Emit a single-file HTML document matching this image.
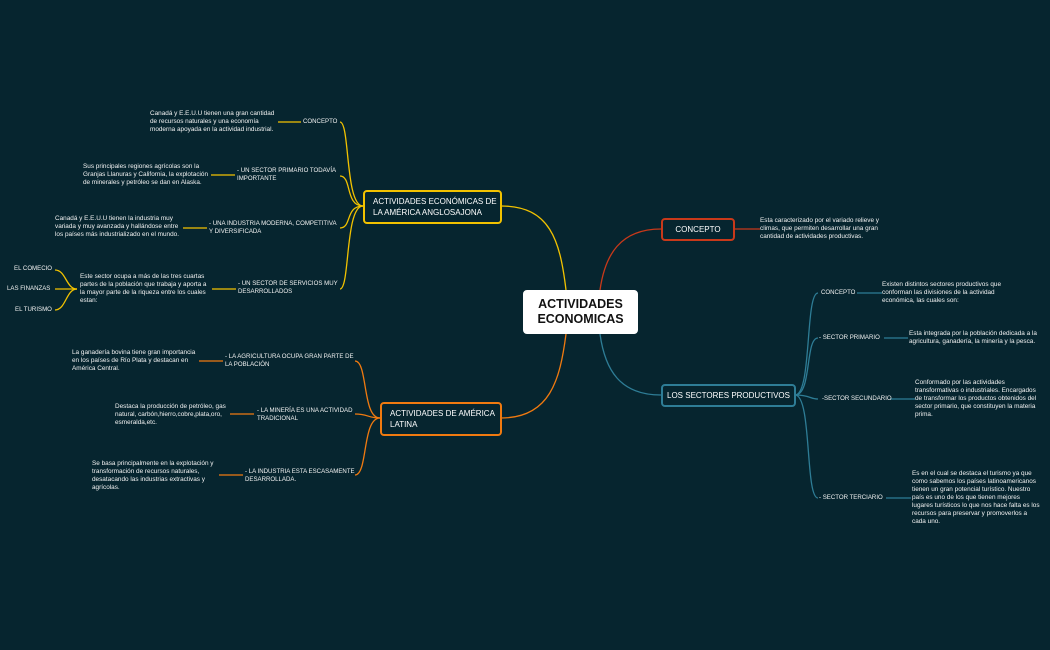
<!DOCTYPE html>
<html><head><meta charset="utf-8"><style>
html,body{margin:0;padding:0;}
body{width:1050px;height:650px;background:#06252f;position:relative;overflow:hidden;font-family:"Liberation Sans",sans-serif;color:#fff;}
.t{position:absolute;font-size:6.4px;line-height:8px;white-space:nowrap;color:#f2f2f2;}
.l{font-size:6.1px;}
.box{position:absolute;box-sizing:border-box;border-radius:4px;border:2.5px solid;background:#06252f;color:#fff;font-size:8px;font-weight:normal;line-height:11px;display:flex;align-items:center;white-space:nowrap;}
svg{position:absolute;left:0;top:0;}
</style></head><body>
<svg width="1050" height="650" fill="none" stroke-width="1.3">
<path d="M501,206 C550,206 560,240 566,290" stroke="#f2c200"/>
<path d="M501,418 C550,418 560,380 566,334" stroke="#f07a10"/>
<path d="M661,229 C620,229 605,255 600,290" stroke="#c8391a"/>
<path d="M661,395 C620,395 605,370 600,334" stroke="#2e7d96"/>
<g stroke="#f2c200">
<path d="M363,206 C345,206 350,122 340,122"/>
<path d="M363,206 C345,206 352,176 340,176"/>
<path d="M363,206 C345,206 352,228 340,228"/>
<path d="M363,206 C345,206 350,289 340,289"/>
<path d="M278,122 H301"/><path d="M211,175 H235"/><path d="M183,228 H207"/><path d="M212,289 H236"/>
<path d="M77,289 C66,289 66,270 55,270"/><path d="M77,289 H55"/><path d="M77,289 C66,289 66,310 55,310"/>
</g>
<g stroke="#f07a10">
<path d="M380,418 C362,418 368,361 355,361"/>
<path d="M380,418 C368,418 368,414 355,414"/>
<path d="M380,418 C362,418 368,475 355,475"/>
<path d="M199,361 H223"/><path d="M230,414 H254"/><path d="M219,475 H243"/>
</g>
<path d="M734,229 H760" stroke="#c8391a"/>
<g stroke="#2e7d96">
<path d="M795,395 C812,395 805,293 818,293"/>
<path d="M795,395 C812,395 805,338 818,338"/>
<path d="M795,395 C810,395 810,399 818,399"/>
<path d="M795,395 C812,395 805,498 818,498"/>
<path d="M857,293 H882"/><path d="M884,338 H908"/><path d="M890,399 H915"/><path d="M886,498 H911"/>
</g>
</svg>

<div class="box" style="left:523px;top:290px;width:115px;height:44px;background:#fff;border-color:#fff;color:#111;font-size:12.5px;font-weight:bold;line-height:15px;justify-content:center;text-align:center;">ACTIVIDADES<br>ECONOMICAS</div>
<div class="box" style="left:363px;top:190px;width:139px;height:34px;border-color:#f2c200;padding-left:8px;">ACTIVIDADES ECONÓMICAS DE<br>LA AMÉRICA ANGLOSAJONA</div>
<div class="box" style="left:380px;top:402px;width:122px;height:34px;border-color:#f07a10;padding-left:8px;">ACTIVIDADES DE AMÉRICA<br>LATINA</div>
<div class="box" style="left:661px;top:218px;width:74px;height:23px;border-color:#c8391a;justify-content:center;">CONCEPTO</div>
<div class="box" style="left:661px;top:384px;width:135px;height:23px;border-color:#2e7d96;justify-content:center;">LOS SECTORES PRODUCTIVOS</div>

<div class="t l" style="left:303px;top:118px;">CONCEPTO</div>
<div class="t" style="left:150px;top:110px;">Canadá y E.E.U.U tienen una gran cantidad<br>de recursos naturales y una economía<br>moderna apoyada en la actividad industrial.</div>
<div class="t l" style="left:237px;top:167px;">- UN SECTOR PRIMARIO TODAVÍA<br>IMPORTANTE</div>
<div class="t" style="left:83px;top:163px;">Sus principales regiones agrícolas son la<br>Granjas Llanuras y California, la explotación<br>de minerales y petróleo se dan en Alaska.</div>
<div class="t l" style="left:209px;top:220px;">- UNA INDUSTRIA MODERNA, COMPETITIVA<br>Y DIVERSIFICADA</div>
<div class="t" style="left:55px;top:215px;">Canadá y E.E.U.U tienen la industria muy<br>variada y muy avanzada y hallándose entre<br>los países más industrializado en el mundo.</div>
<div class="t l" style="left:238px;top:280px;">- UN SECTOR DE SERVICIOS MUY<br>DESARROLLADOS</div>
<div class="t" style="left:80px;top:273px;">Este sector ocupa a más de las tres cuartas<br>partes de la población que trabaja y aporta a<br>la mayor parte de la riqueza entre los cuales<br>estan:</div>
<div class="t l" style="left:14px;top:265px;">EL COMECIO</div>
<div class="t l" style="left:7px;top:285px;">LAS FINANZAS</div>
<div class="t l" style="left:15px;top:306px;">EL TURISMO</div>

<div class="t l" style="left:225px;top:353px;">- LA AGRICULTURA OCUPA GRAN PARTE DE<br>LA POBLACIÓN</div>
<div class="t" style="left:72px;top:349px;">La ganadería bovina tiene gran importancia<br>en los países de Río Plata y destacan en<br>América Central.</div>
<div class="t l" style="left:257px;top:407px;">- LA MINERÍA ES UNA ACTIVIDAD<br>TRADICIONAL</div>
<div class="t" style="left:115px;top:403px;">Destaca la producción de petróleo, gas<br>natural, carbón,hierro,cobre,plata,oro,<br>esmeralda,etc.</div>
<div class="t l" style="left:245px;top:468px;">- LA INDUSTRIA ESTA ESCASAMENTE<br>DESARROLLADA.</div>
<div class="t" style="left:92px;top:460px;">Se basa principalmente en la explotación y<br>transformación de recursos naturales,<br>desatacando las industrias extractivas y<br>agrícolas.</div>

<div class="t" style="left:760px;top:217px;">Esta caracterizado por el variado relieve y<br>climas, que permiten desarrollar una gran<br>cantidad de actividades productivas.</div>
<div class="t l" style="left:821px;top:289px;">CONCEPTO</div>
<div class="t" style="left:882px;top:281px;">Existen distintos sectores productivos que<br>conforman las divisiones de la actividad<br>económica, las cuales son:</div>
<div class="t l" style="left:819px;top:334px;">- SECTOR PRIMARIO</div>
<div class="t" style="left:909px;top:330px;">Esta integrada por la población dedicada a la<br>agricultura, ganadería, la minería y la pesca.</div>
<div class="t l" style="left:822px;top:395px;">-SECTOR SECUNDARIO</div>
<div class="t" style="left:915px;top:379px;">Conformado por las actividades<br>transformativas o industriales. Encargados<br>de transformar los productos obtenidos del<br>sector primario, que constituyen la materia<br>prima.</div>
<div class="t l" style="left:819px;top:494px;">- SECTOR TERCIARIO</div>
<div class="t" style="left:912px;top:470px;">Es en el cual se destaca el turismo ya que<br>como sabemos los países latinoamericanos<br>tienen un gran potencial turístico. Nuestro<br>país es uno de los que tienen mejores<br>lugares turísticos lo que nos hace falta es los<br>recursos para preservar y promoverlos a<br>cada uno.</div>
</body></html>
